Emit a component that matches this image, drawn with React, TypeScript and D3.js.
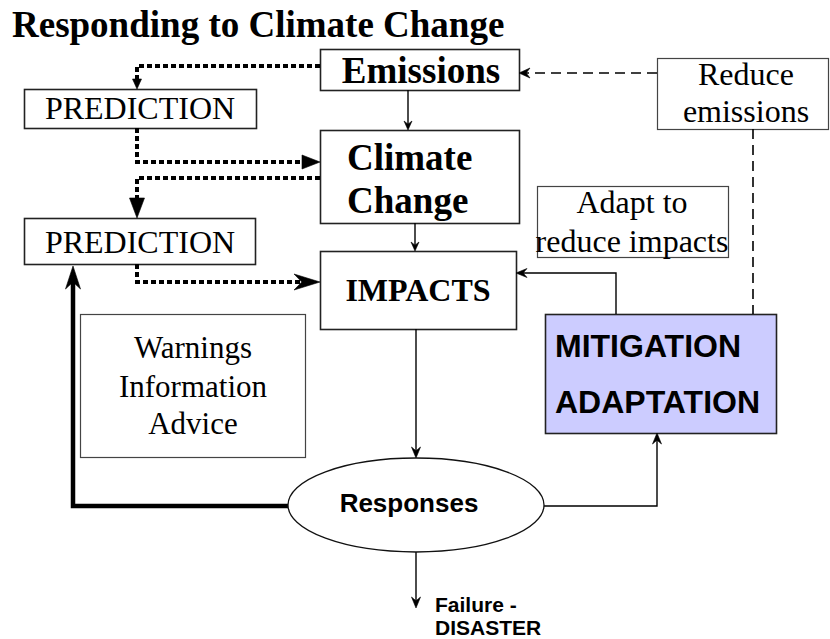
import React, { useEffect, useRef } from 'react'
import { select } from 'd3'

const W = 830
const H = 639

const title = 'Responding to Climate Change'
const boxIds = ['emissions', 'pred1', 'climate', 'pred2', 'impacts', 'adapt', 'reduce', 'mitigation', 'warnings']
const boxLabels = [
  ['Emissions'],
  ['PREDICTION'],
  ['Climate', 'Change'],
  ['PREDICTION'],
  ['IMPACTS'],
  ['Adapt to', 'reduce impacts'],
  ['Reduce', 'emissions'],
  ['MITIGATION', 'ADAPTATION'],
  ['Warnings', 'Information', 'Advice'],
]
const responseLabel = 'Responses'
const outcomeLines = ['Failure -', 'DISASTER']
// from, to, line kind
const links = [
  ['emissions', 'pred1', 'dotted'],
  ['pred1', 'climate', 'dotted'],
  ['climate', 'pred2', 'dotted'],
  ['pred2', 'impacts', 'dotted'],
  ['emissions', 'climate', 'solid'],
  ['climate', 'impacts', 'solid'],
  ['impacts', 'responses', 'solid'],
  ['responses', 'failure', 'solid'],
  ['responses', 'mitigation', 'solid'],
  ['mitigation', 'impacts', 'solid'],
  ['reduce', 'emissions', 'dashed'],
  ['reduce', 'mitigation', 'dashedPlain'],
  ['responses', 'pred2', 'thick'],
]

const SERIF = "'Liberation Serif', 'Times New Roman', serif"
const SANS = "'Liberation Sans', Arial, sans-serif"

// layout of boxes
const box = {
  emissions: { x: 320, y: 49, w: 199, h: 41 },
  pred1: { x: 24, y: 89, w: 232, h: 39 },
  climate: { x: 320, y: 130, w: 199, h: 93 },
  pred2: { x: 24, y: 218, w: 231, h: 46 },
  impacts: { x: 320, y: 251, w: 196, h: 78 },
  adapt: { x: 537, y: 186, w: 191, h: 71 },
  reduce: { x: 657, y: 58, w: 171, h: 71 },
  mitigation: { x: 545, y: 314, w: 231, h: 119 },
  warnings: { x: 80, y: 314, w: 225, h: 143 },
}
const boxStyle = {
  emissions: { font: SERIF, size: 37, weight: 'bold', anchor: 'middle', tx: 421, base: [83] },
  pred1: { font: SERIF, size: 32, weight: 'normal', anchor: 'middle', tx: 140, base: [119] },
  climate: { font: SERIF, size: 37, weight: 'bold', anchor: 'start', tx: 347, base: [170, 213] },
  pred2: { font: SERIF, size: 32, weight: 'normal', anchor: 'middle', tx: 140, base: [253] },
  impacts: { font: SERIF, size: 32, weight: 'bold', anchor: 'middle', tx: 418, base: [301] },
  adapt: { font: SERIF, size: 32, weight: 'normal', anchor: 'middle', tx: 632, base: [213, 252] },
  reduce: { font: SERIF, size: 32, weight: 'normal', anchor: 'middle', tx: 746, base: [85, 122] },
  mitigation: { font: SANS, size: 32, weight: 'bold', anchor: 'start', tx: 555, base: [357, 413] },
  warnings: { font: SERIF, size: 31, weight: 'normal', anchor: 'middle', tx: 193, base: [358, 397, 434] },
}
const ell = { cx: 416, cy: 505, rx: 128, ry: 47 }

// routes for each link, with arrow head [length, width, notch]
const b = box
const routes = {
  'emissions-pred1': { pts: [[b.emissions.x, 66], [137, 66], [137, b.pred1.y]], head: [10, 9, 0] },
  'pred1-climate': { pts: [[137, b.pred1.y + b.pred1.h], [137, 162], [b.climate.x, 162]], head: [18, 14, 0] },
  'climate-pred2': { pts: [[b.climate.x, 178], [137, 178], [137, b.pred2.y]], head: [20, 15, 0] },
  'pred2-impacts': { pts: [[137, b.pred2.y + b.pred2.h], [137, 282], [b.impacts.x, 282]], head: [26, 16, 0.3] },
  'emissions-climate': { pts: [[408, b.emissions.y + b.emissions.h], [408, b.climate.y]], head: [9, 8, 0.35] },
  'climate-impacts': { pts: [[415, b.climate.y + b.climate.h], [415, b.impacts.y]], head: [9, 8, 0.35] },
  'impacts-responses': { pts: [[416, b.impacts.y + b.impacts.h], [416, ell.cy - ell.ry]], head: [11, 9, 0.35] },
  'responses-failure': { pts: [[416, ell.cy + ell.ry], [416, 608]], head: [11, 9, 0.35] },
  'responses-mitigation': { pts: [[ell.cx + ell.rx, 506], [657, 506], [657, b.mitigation.y + b.mitigation.h]], head: [11, 9, 0.35] },
  'mitigation-impacts': { pts: [[616, b.mitigation.y], [616, 273], [b.impacts.x + b.impacts.w, 273]], head: [11, 9, 0.35] },
  'reduce-emissions': { pts: [[b.reduce.x, 73], [b.emissions.x + b.emissions.w, 73]], head: [11, 10, 0.35] },
  'reduce-mitigation': { pts: [[753, b.reduce.y + b.reduce.h], [753, b.mitigation.y]], head: null },
  'responses-pred2': { pts: [[ell.cx - ell.rx, 506], [73, 506], [73, b.pred2.y + b.pred2.h + 2]], head: [23, 15, 0.3] },
}
const lineStyle = {
  dotted: { width: 4, dash: '5 3' },
  solid: { width: 1.4, dash: null },
  dashed: { width: 1.6, dash: '10 6' },
  dashedPlain: { width: 1.6, dash: '10 6' },
  thick: { width: 4.5, dash: null },
}

function headPoints(p0, p1, len, wid, notch) {
  const dx = p1[0] - p0[0]
  const dy = p1[1] - p0[1]
  const d = Math.hypot(dx, dy)
  const ux = dx / d, uy = dy / d
  const nx = -uy, ny = ux
  const bx = p1[0] - ux * len, by = p1[1] - uy * len
  const mx = p1[0] - ux * len * (1 - notch), my = p1[1] - uy * len * (1 - notch)
  return [
    [p1[0], p1[1]],
    [bx + nx * wid / 2, by + ny * wid / 2],
    [mx, my],
    [bx - nx * wid / 2, by - ny * wid / 2],
  ]
}

function Diagram() {
  const svgRef = useRef(null)

  useEffect(() => {
    const svg = select(svgRef.current)
    svg.selectAll('*').remove()

    svg.append('rect').attr('width', W).attr('height', H).attr('fill', '#fff')

    svg.append('text')
      .attr('x', 12).attr('y', 37)
      .attr('font-family', SERIF).attr('font-size', 37).attr('font-weight', 'bold')
      .text(title)

    // boxes
    boxIds.forEach((id, i) => {
      const r = box[id]
      const s = boxStyle[id]
      const light = id === 'adapt' || id === 'reduce' || id === 'warnings'
      svg.append('rect')
        .attr('x', r.x + 0.5).attr('y', r.y + 0.5)
        .attr('width', r.w).attr('height', r.h)
        .attr('fill', id === 'mitigation' ? '#ccccff' : '#fff')
        .attr('stroke', light ? '#444' : '#222')
        .attr('stroke-width', light ? 1.2 : 1.6)
      boxLabels[i].forEach((line, j) => {
        svg.append('text')
          .attr('x', s.tx).attr('y', s.base[j])
          .attr('text-anchor', s.anchor)
          .attr('font-family', s.font).attr('font-size', s.size).attr('font-weight', s.weight)
          .attr('fill', '#000')
          .text(line)
      })
    })

    // links
    links.forEach(([from, to, kind]) => {
      const r = routes[`${from}-${to}`]
      const st = lineStyle[kind]
      const pts = r.pts.map(p => [p[0], p[1]])
      if (r.head) {
        const [len, , notch] = r.head
        const n = pts.length
        const p0 = pts[n - 2], p1 = pts[n - 1]
        const d = Math.hypot(p1[0] - p0[0], p1[1] - p0[1])
        const cut = len * (1 - notch) * 0.9
        pts[n - 1] = [p1[0] - (p1[0] - p0[0]) / d * cut, p1[1] - (p1[1] - p0[1]) / d * cut]
      }
      const dStr = pts.map((p, k) => `${k ? 'L' : 'M'}${p[0]},${p[1]}`).join('')
      svg.append('path')
        .attr('d', dStr)
        .attr('fill', 'none')
        .attr('stroke', '#000')
        .attr('stroke-width', st.width)
        .attr('stroke-dasharray', st.dash)
        .attr('stroke-linejoin', 'miter')
      if (r.head) {
        const n = r.pts.length
        const hp = headPoints(r.pts[n - 2], r.pts[n - 1], r.head[0], r.head[1], r.head[2])
        svg.append('path')
          .attr('d', 'M' + hp.map(p => p.join(',')).join('L') + 'Z')
          .attr('fill', '#000')
          .attr('stroke', '#000')
          .attr('stroke-width', 0.6)
      }
    })

    // responses ellipse
    svg.append('ellipse')
      .attr('cx', ell.cx).attr('cy', ell.cy).attr('rx', ell.rx).attr('ry', ell.ry)
      .attr('fill', '#fff').attr('stroke', '#111').attr('stroke-width', 1.3)
    svg.append('text')
      .attr('x', 409).attr('y', 512)
      .attr('text-anchor', 'middle')
      .attr('font-family', SANS).attr('font-size', 26).attr('font-weight', 'bold')
      .text(responseLabel)

    outcomeLines.forEach((line, j) => {
      svg.append('text')
        .attr('x', 435).attr('y', 612 + j * 23)
        .attr('font-family', SANS).attr('font-size', 21).attr('font-weight', 'bold')
        .text(line)
    })
  }, [])

  return <svg ref={svgRef} width={W} height={H} style={{ position: 'absolute', left: 0, top: 0 }} />
}

export default function App() {
  return <Diagram />
}
